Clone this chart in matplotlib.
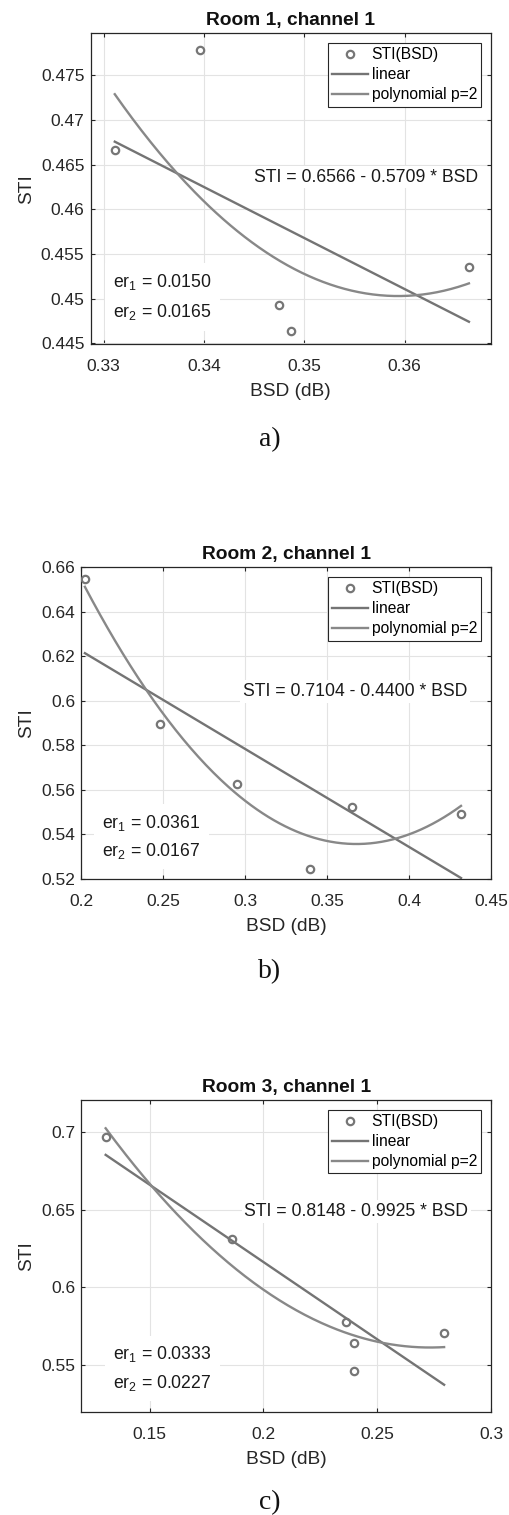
import numpy as np
import matplotlib
matplotlib.use('Agg')
import matplotlib.pyplot as plt
from matplotlib.ticker import FormatStrFormatter

plt.rcParams['font.family'] = ['Liberation Sans', 'DejaVu Sans']
plt.rcParams['mathtext.fontset'] = 'custom'
plt.rcParams['mathtext.rm'] = 'Liberation Sans'
plt.rcParams['mathtext.it'] = 'Liberation Sans'

# measured points, one list per room
bsd_1 = [0.3311, 0.3396, 0.3475, 0.3487, 0.3664]
sti_1 = [0.4666, 0.4778, 0.4493, 0.4464, 0.4536]
bsd_2 = [0.2022, 0.2478, 0.2949, 0.3394, 0.3652, 0.4317]
sti_2 = [0.6548, 0.5898, 0.5627, 0.5246, 0.5525, 0.5491]
bsd_3 = [0.1307, 0.1863, 0.2364, 0.2396, 0.2396, 0.2794]
sti_3 = [0.6968, 0.6310, 0.5776, 0.5643, 0.5464, 0.5707]

titles = ['Room 1, channel 1', 'Room 2, channel 1', 'Room 3, channel 1']
captions = ['a)', 'b)', 'c)']
intercepts = [0.6566, 0.7104, 0.8148]
slopes = [0.5709, 0.4400, 0.9925]
er1 = [0.0150, 0.0361, 0.0333]
er2 = [0.0165, 0.0167, 0.0227]

xlims = [(0.3287, 0.3686), (0.2, 0.45), (0.12, 0.30)]
ylims = [(0.4449, 0.4797), (0.52, 0.66), (0.52, 0.7203)]
xticks = [[0.33, 0.34, 0.35, 0.36], [0.2, 0.25, 0.3, 0.35, 0.4, 0.45],
          [0.15, 0.2, 0.25, 0.3]]
yticks = [[0.445, 0.45, 0.455, 0.46, 0.465, 0.47, 0.475],
          [0.52, 0.54, 0.56, 0.58, 0.6, 0.62, 0.64, 0.66],
          [0.55, 0.6, 0.65, 0.7]]

bsd = [bsd_1, bsd_2, bsd_3]
sti = [sti_1, sti_2, sti_3]

W, H = 510, 1515
fig = plt.figure(figsize=(W / 100, H / 100), dpi=100)

# axes boxes in pixels: left, top, right, bottom
boxes = [(90.7, 33.3, 491, 344.3), (81.3, 567.3, 491, 879), (81.3, 1100, 491, 1412)]
eq_pos = [(0.408, 0.523), (0.395, 0.587), (0.398, 0.628)]
er_pos = [(0.056, 0.185, 0.087), (0.051, 0.165, 0.075), (0.078, 0.170, 0.078)]
caption_y = [446.5, 978, 1509]
ylabel_x = [35, 35, 35]

dark = '#262626'
c_pts = '#767676'
c_lin = '#747474'
c_poly = '#888888'
ann = 12.7

for i in range(3):
    l, t, r, b = boxes[i]
    ax = fig.add_axes([l / W, 1 - b / H, (r - l) / W, (b - t) / H])
    x = np.array(bsd[i])
    y = np.array(sti[i])
    xs = np.linspace(x.min(), x.max(), 200)

    ax.plot(x, y, 'o', ms=5.3, mew=1.6, mfc='none', mec=c_pts, label='STI(BSD)', zorder=3)
    ax.plot(xs, intercepts[i] - slopes[i] * xs, color=c_lin, lw=1.7, label='linear', zorder=2)
    p = np.polyfit(x, y, 2)
    ax.plot(xs, np.polyval(p, xs), color=c_poly, lw=1.7, label='polynomial p=2', zorder=2)

    ax.set_xlim(*xlims[i])
    ax.set_ylim(*ylims[i])
    ax.set_xticks(xticks[i])
    ax.set_yticks(yticks[i])
    ax.xaxis.set_major_formatter(FormatStrFormatter('%g'))
    ax.yaxis.set_major_formatter(FormatStrFormatter('%g'))
    ax.tick_params(direction='in', top=True, right=True, length=3, width=0.8,
                   colors=dark, labelsize=12.5)
    ax.tick_params(axis='x', pad=10.5)
    ax.tick_params(axis='y', pad=4.5)
    for s in ax.spines.values():
        s.set_color(dark)
        s.set_linewidth(0.9)
    ax.grid(True, color='#e3e3e3', lw=0.8)
    ax.set_axisbelow(True)

    ax.set_title(titles[i], fontsize=13.75, fontweight='bold', color='#111111', pad=6)
    ax.set_xlabel('BSD (dB)', fontsize=13.75, color=dark, labelpad=6.5)
    ax.set_ylabel('STI', fontsize=13.75, color=dark)
    ax.yaxis.set_label_coords((ylabel_x[i] - l) / (r - l), 0.5)

    leg = ax.legend(loc='upper right', fontsize=11.25, fancybox=False, framealpha=1,
                    edgecolor=dark, borderaxespad=0.62, borderpad=0.28,
                    labelspacing=0.32, handlelength=2.25, handletextpad=0.25)
    leg.get_frame().set_linewidth(0.8)
    leg.set_zorder(5)

    box = dict(facecolor='white', edgecolor='none', pad=2)
    ex, ey = eq_pos[i]
    ax.text(ex, ey, f'STI = {intercepts[i]:.4f} - {slopes[i]:.4f} * BSD',
            transform=ax.transAxes, fontsize=ann, color='#1a1a1a',
            va='baseline', ha='left', bbox=box, zorder=4)
    rx, ry1, ry2 = er_pos[i]
    ebox = dict(facecolor='white', edgecolor='none', pad=6)
    ax.text(rx, ry1, r'er$_\mathregular{1}$' + f' = {er1[i]:.4f}', transform=ax.transAxes,
            fontsize=ann, color='#1a1a1a', va='baseline', ha='left', bbox=ebox, zorder=4)
    ax.text(rx, ry2, r'er$_\mathregular{2}$' + f' = {er2[i]:.4f}', transform=ax.transAxes,
            fontsize=ann, color='#1a1a1a', va='baseline', ha='left', bbox=ebox, zorder=4)

    fig.text(270 / W, 1 - caption_y[i] / H, captions[i], fontsize=20,
             family='Liberation Serif', ha='center', va='baseline', color='#111111')

fig.savefig('out.png', dpi=100, facecolor='white')
